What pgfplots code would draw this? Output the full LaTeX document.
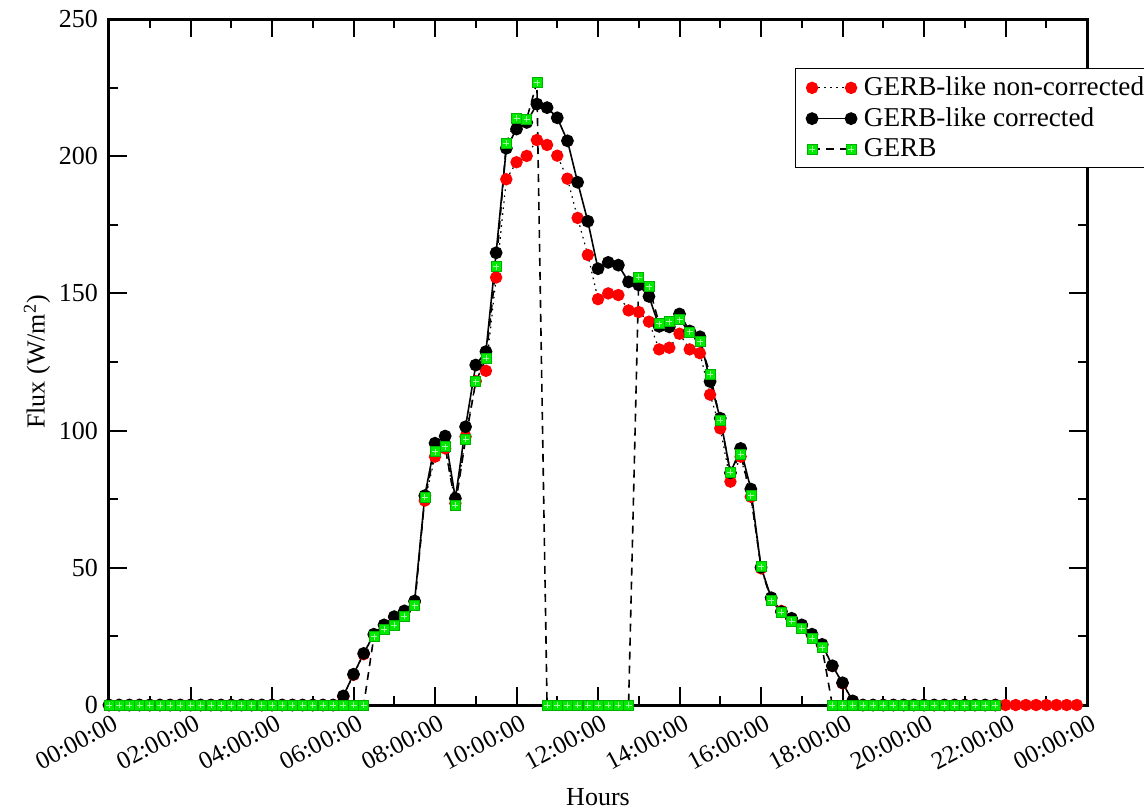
\documentclass[border=0pt]{standalone}
\usepackage{fontspec}
\setmainfont{Liberation Serif}
\usepackage{pgfplots}
\pgfplotsset{compat=1.18}
\definecolor{gerbgreen}{RGB}{0,235,0}
\pgfdeclareplotmark{gsq}{%
  \pgfsetdash{}{0pt}%
  \pgfsetfillcolor{gerbgreen}\pgfsetstrokecolor{gerbgreen!75!black}\pgfsetlinewidth{0.3pt}%
  \pgfpathrectangle{\pgfpoint{-\pgfplotmarksize}{-\pgfplotmarksize}}{\pgfpoint{2\pgfplotmarksize}{2\pgfplotmarksize}}%
  \pgfusepath{fill,stroke}%
  \pgfsetstrokecolor{gerbgreen!35!white}\pgfsetlinewidth{0.35pt}%
  \pgfpathmoveto{\pgfpoint{-0.6\pgfplotmarksize}{0pt}}\pgfpathlineto{\pgfpoint{0.6\pgfplotmarksize}{0pt}}%
  \pgfpathmoveto{\pgfpoint{0pt}{-0.6\pgfplotmarksize}}\pgfpathlineto{\pgfpoint{0pt}{0.6\pgfplotmarksize}}%
  \pgfusepath{stroke}%
}
\begin{document}
\fontsize{13}{15.6}\selectfont
\begin{tikzpicture}
\begin{axis}[
  at={(0,0)}, anchor=south west,
  scale only axis, width=489pt, height=343pt,
  xmin=0, xmax=24, ymin=0, ymax=250,
  xtick={0,2,...,24},
  xticklabels={00:00:00,02:00:00,04:00:00,06:00:00,08:00:00,10:00:00,12:00:00,14:00:00,16:00:00,18:00:00,20:00:00,22:00:00,00:00:00},
  minor x tick num=1,
  ytick={0,50,...,250},
  minor y tick num=1,
  tick align=inside,
  major tick length=9pt, minor tick length=4.5pt,
  every tick/.style={black, line width=1pt},
  axis line style={line width=1.5pt},
  /pgf/number format/assume math mode=true,
  tick label style={font=\fontsize{13}{15.6}\selectfont},
  xticklabel style={font=\fontsize{12.5}{15}\selectfont, rotate=28, anchor=north east, xshift=3.8pt},
  yticklabel style={xshift=-1pt},
  xlabel={Hours},
  ylabel={Flux (W/m\textsuperscript{2})},
  label style={font=\fontsize{13}{15.6}\selectfont},
  xlabel style={at={(axis description cs:0.5,-0.134)}, anchor=center},
  ylabel style={at={(axis description cs:-0.0736,0.5)}, anchor=center},
  legend style={at={(axis description cs:0.7014,0.9286)}, anchor=north west,
    draw=black, line width=0.5pt, fill=white, font=\fontsize{13.6}{16}\selectfont,
    inner xsep=5.5pt, inner ysep=2pt, row sep=0pt, cells={anchor=west}},
  legend image code/.code={\draw[#1] plot coordinates {(0pt,0pt) (19.5pt,0pt)}; \path (23.5pt,0pt);},
  clip=false,
]
\addplot[black, line width=0.6pt, dash pattern=on 0.8pt off 2.2pt, mark=*, mark size=2.8pt, mark options={solid, fill=red, draw=red}] coordinates {
(0,0)(0.25,0)(0.5,0)(0.75,0)(1,0)(1.25,0)(1.5,0)(1.75,0)(2,0)(2.25,0)(2.5,0)(2.75,0)(3,0)(3.25,0)(3.5,0)(3.75,0)(4,0)(4.25,0)(4.5,0)(4.75,0)(5,0)(5.25,0)(5.5,0)
(5.75,3.0)(6,11.0)(6.25,18.5)(6.5,25.5)(6.75,29.0)(7,32.0)(7.25,34.0)(7.5,37.5)(7.75,74.5)(8,90.5)(8.25,93.5)(8.5,73.5)(8.75,97.8)(9,118.0)(9.25,121.8)(9.5,155.8)(9.75,191.6)(10,197.8)(10.25,200.1)(10.5,205.9)(10.75,204.1)(11,200.2)(11.25,191.8)(11.5,177.5)(11.75,164.0)(12,147.9)(12.25,150.0)(12.5,149.4)(12.75,143.8)(13,143.2)(13.25,139.7)(13.5,129.6)(13.75,130.2)(14,135.3)(14.25,129.6)(14.5,128.2)(14.75,113.1)(15,100.8)(15.25,81.4)(15.5,90.5)(15.75,75.9)(16,49.8)(16.25,38.6)(16.5,34.3)(16.75,31.4)(17,28.8)(17.25,25.5)(17.5,21.7)(17.75,14.2)(18,7.9)(18.25,1.3)
(18.5,0)(18.75,0)(19,0)(19.25,0)(19.5,0)(19.75,0)(20,0)(20.25,0)(20.5,0)(20.75,0)(21,0)(21.25,0)(21.5,0)(21.75,0)(22,0)(22.25,0)(22.5,0)(22.75,0)(23,0)(23.25,0)(23.5,0)(23.75,0)
};
\addlegendentry{GERB-like non-corrected}
\addplot[black, line width=0.8pt, mark=*, mark size=2.8pt, mark options={fill=black}] coordinates {
(0,0)(0.25,0)(0.5,0)(0.75,0)(1,0)(1.25,0)(1.5,0)(1.75,0)(2,0)(2.25,0)(2.5,0)(2.75,0)(3,0)(3.25,0)(3.5,0)(3.75,0)(4,0)(4.25,0)(4.5,0)(4.75,0)(5,0)(5.25,0)(5.5,0)
(5.75,3.3)(6,11.2)(6.25,18.8)(6.5,25.8)(6.75,29.2)(7,32.2)(7.25,34.3)(7.5,37.9)(7.75,76.3)(8,95.4)(8.25,98.0)(8.5,75.3)(8.75,101.4)(9,123.9)(9.25,128.8)(9.5,164.8)(9.75,202.9)(10,209.9)(10.25,212.3)(10.5,219.0)(10.75,217.7)(11,214.0)(11.25,205.6)(11.5,190.5)(11.75,176.3)(12,159.0)(12.25,161.3)(12.5,160.3)(12.75,154.2)(13,153.1)(13.25,148.9)(13.5,138.0)(13.75,137.8)(14,142.5)(14.25,136.3)(14.5,134.2)(14.75,117.9)(15,104.5)(15.25,84.6)(15.5,93.5)(15.75,78.7)(16,50.2)(16.25,39.1)(16.5,34.0)(16.75,31.6)(17,29.2)(17.25,25.8)(17.5,22.1)(17.75,14.3)(18,8.1)(18.25,1.5)
(18.5,0)(18.75,0)(19,0)(19.25,0)(19.5,0)(19.75,0)(20,0)(20.25,0)(20.5,0)(20.75,0)(21,0)(21.25,0)(21.5,0)(21.75,0)
};
\addlegendentry{GERB-like corrected}
\addplot[black, line width=0.8pt, dash pattern=on 4pt off 3pt, mark=gsq, mark size=2.5pt, mark options={solid}] coordinates {
(0,0)(0.25,0)(0.5,0)(0.75,0)(1,0)(1.25,0)(1.5,0)(1.75,0)(2,0)(2.25,0)(2.5,0)(2.75,0)(3,0)(3.25,0)(3.5,0)(3.75,0)(4,0)(4.25,0)(4.5,0)(4.75,0)(5,0)(5.25,0)(5.5,0)(5.75,0)(6,0)(6.25,0)
(6.5,24.9)(6.75,27.6)(7,29.2)(7.25,32.4)(7.5,36.2)(7.75,75.7)(8,92.3)(8.25,94.1)(8.5,72.9)(8.75,96.8)(9,117.8)(9.25,126.3)(9.5,159.7)(9.75,204.7)(10,213.8)(10.25,213.6)(10.5,226.8)
(10.75,0)(11,0)(11.25,0)(11.5,0)(11.75,0)(12,0)(12.25,0)(12.5,0)(12.75,0)
(13,155.9)(13.25,152.5)(13.5,139.0)(13.75,139.7)(14,140.4)(14.25,136.0)(14.5,132.4)(14.75,120.6)(15,103.8)(15.25,84.8)(15.5,91.5)(15.75,76.3)(16,50.4)(16.25,38.0)(16.5,33.8)(16.75,30.6)(17,28.0)(17.25,24.3)(17.5,20.9)
(17.75,0)(18,0)(18.25,0)(18.5,0)(18.75,0)(19,0)(19.25,0)(19.5,0)(19.75,0)(20,0)(20.25,0)(20.5,0)(20.75,0)(21,0)(21.25,0)(21.5,0)(21.75,0)
};
\addlegendentry{GERB}
\end{axis}
\pgfresetboundingbox
\path[use as bounding box] (-54.5pt,-52.5pt) rectangle (517.5pt,352.5pt);
\end{tikzpicture}
\end{document}
